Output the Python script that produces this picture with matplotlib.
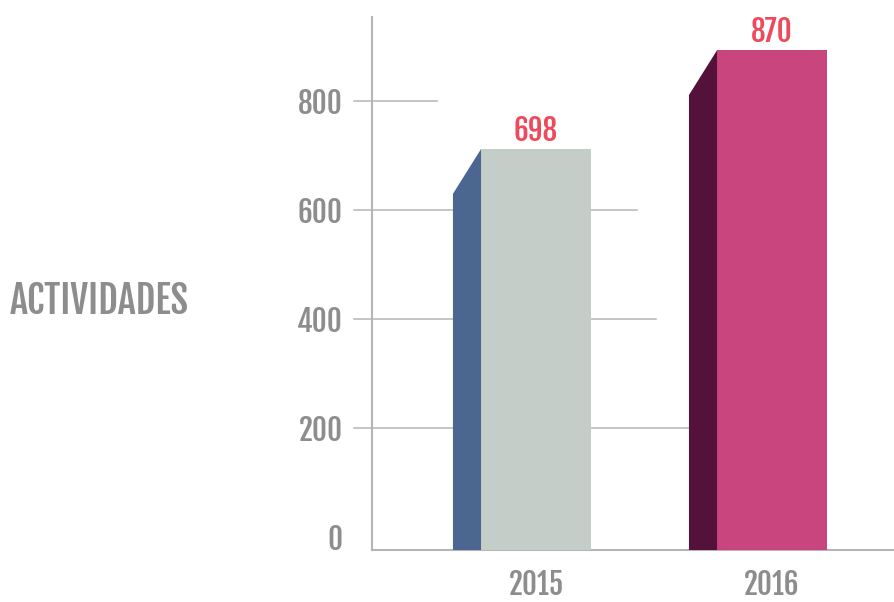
import matplotlib
matplotlib.use("Agg")
import matplotlib.pyplot as plt
import matplotlib.transforms as mtransforms

years = ["2015", "2016"]
values = [698, 870]
front_colors = ["#c4cdc8", "#c9457d"]
side_colors = ["#4a6691", "#54123a"]
tick_values = [0, 200, 400, 600, 800]
grid_values = [200, 400, 600, 800]
grid_ends = [0.606, 0.543, 0.507, 0.124]  # axes-fraction end of each grid line
axis_title = "ACTIVIDADES"

FONT = ["Fjalla One", "DejaVu Sans"]
GRAY = "#8d8d8d"
LINE = "#b5b5b5"
RED = "#ef4a5c"
FS = 21

W, H = 895, 602
fig = plt.figure(figsize=(W / 100, H / 100), dpi=100)

left_px, right_px, bottom_px, top_px = 372, 895, 550, 17
rect = [left_px / W, (H - bottom_px) / H, (right_px - left_px) / W, (bottom_px - top_px) / H]

# tick / grid axes (decorative scale)
ax2 = fig.add_axes(rect, zorder=1)
ax2.set_ylim(-23.9, 954)
ax2.set_xlim(0, 1)
ax2.patch.set_visible(False)
for s in ["top", "right", "bottom"]:
    ax2.spines[s].set_visible(False)
ax2.spines["left"].set_color(LINE)
ax2.spines["left"].set_linewidth(1.5)
ax2.set_xticks([])
ax2.set_yticks(tick_values)
ax2.set_yticklabels([str(v) for v in tick_values])
ax2.tick_params(axis="y", length=0, pad=21, labelsize=FS, labelcolor=GRAY)
for lab in ax2.get_yticklabels():
    lab.set_family(FONT)
trans = mtransforms.blended_transform_factory(ax2.transAxes, ax2.transData)
for gv, ge in zip(grid_values, grid_ends):
    ax2.plot([-0.0344, ge], [gv, gv], color=LINE, lw=1.1, transform=trans, clip_on=False, zorder=1)

# bar axes
ax = fig.add_axes(rect, zorder=2)
ax.patch.set_visible(False)
ax.set_ylim(0, 927.8)
ax.set_xlim(-0.695, 1.521)
for s in ["top", "right", "left"]:
    ax.spines[s].set_visible(False)
ax.spines["bottom"].set_color(LINE)
ax.spines["bottom"].set_linewidth(1.5)
ax.set_yticks([])
xs = list(range(len(years)))
bw = 0.466
sw = 0.119
depth = 78
ax.bar(xs, values, width=bw, color=front_colors, zorder=3, linewidth=0)
for x, v, c in zip(xs, values, side_colors):
    x0 = x - bw / 2
    ax.fill([x0 - sw, x0, x0, x0 - sw], [0, 0, v, v - depth], color=c, lw=0, zorder=3)
    ax.annotate(str(v), (x, v), xytext=(0, 6), textcoords="offset points",
                ha="center", va="baseline", color=RED, fontsize=FS,
                family=FONT)
ax.set_xticks(xs)
ax.set_xticklabels(years)
ax.tick_params(axis="x", length=0, pad=14, labelsize=FS, labelcolor=GRAY)
for lab in ax.get_xticklabels():
    lab.set_family(FONT)

fig.text(10 / W, 1 - 301 / H, axis_title, ha="left", va="center", color=GRAY,
         fontsize=27.5, family=FONT)

fig.savefig("out.png", dpi=100)
